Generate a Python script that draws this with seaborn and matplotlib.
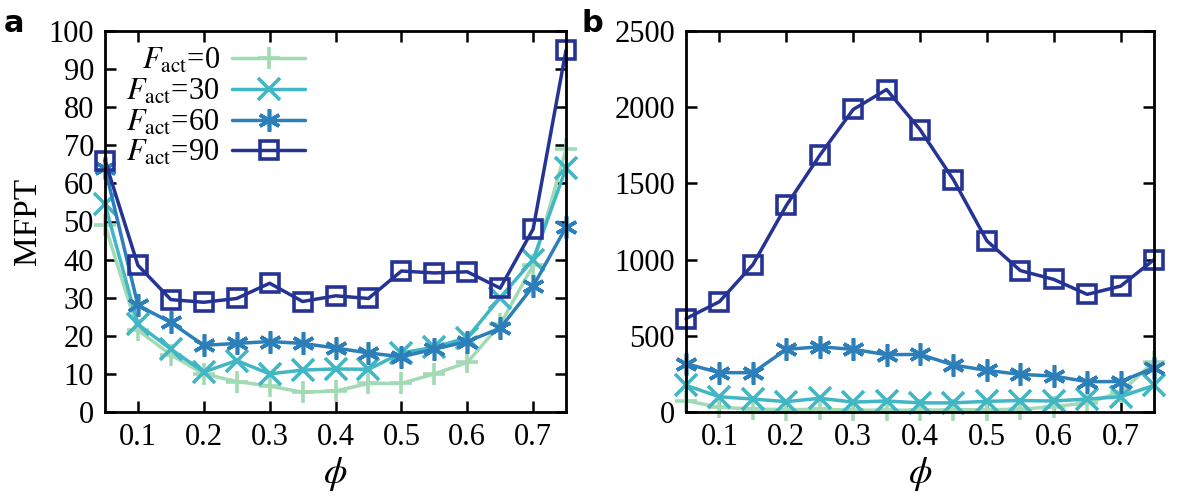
import numpy as np
import pandas as pd
import matplotlib
matplotlib.use("Agg")
import matplotlib.pyplot as plt
import seaborn as sns

phi = [0.05, 0.10, 0.15, 0.20, 0.25, 0.30, 0.35, 0.40, 0.45, 0.50, 0.55, 0.60, 0.65, 0.70, 0.75]
f_act = [0, 30, 60, 90]

# panel a
mfpt_a_0 = [49, 21.5, 15, 10, 8, 6.8, 5.2, 5.5, 7.5, 7.5, 10, 13, 23, 38.5, 69]
mfpt_a_30 = [54.5, 23, 16.5, 10.5, 13.5, 10, 11, 11.3, 11.2, 15.5, 17, 19.5, 30, 40, 64]
mfpt_a_60 = [64, 28, 23.5, 17.5, 18, 18.5, 18, 16.8, 15.5, 14.5, 16.5, 18.5, 22, 33, 48.5]
mfpt_a_90 = [66, 38.5, 29.5, 28.8, 29.8, 33.8, 29, 30.5, 29.8, 37, 36.5, 36.8, 32.5, 48, 95]

# panel b
mfpt_b_0 = [75, 30, 20, 15, 18, 12, 12, 12, 14, 15, 18, 35, 60, 130, 330]
mfpt_b_30 = [175, 100, 85, 68, 90, 65, 72, 60, 60, 70, 75, 72, 85, 100, 175]
mfpt_b_60 = [317, 258, 258, 411, 428, 411, 376, 378, 308, 273, 247, 236, 199, 200, 290]
mfpt_b_90 = [613, 724, 967, 1355, 1684, 1985, 2116, 1853, 1524, 1123, 928, 870, 772, 826, 1000]

colors = ["#a1dab4", "#41b6c4", "#2c7fb8", "#253494"]
marks = ["+", "x", (6, 2, 0), "s"]
labels = [r"$F_{\rm act}$=%d" % f for f in f_act]

sns.set_style("ticks")
plt.rcParams["font.family"] = ["Liberation Serif", "DejaVu Serif"]
plt.rcParams["mathtext.fontset"] = "stix"
plt.rcParams["axes.linewidth"] = 2
for key in ["text.color", "axes.labelcolor", "xtick.color", "ytick.color", "axes.edgecolor"]:
    plt.rcParams[key] = "black"

fig = plt.figure(figsize=(12, 5), dpi=100)
ax_a = fig.add_axes([0.0875, 0.176, 0.3842, 0.762])
ax_b = fig.add_axes([0.5717, 0.176, 0.39, 0.762])

panels = [(ax_a, [mfpt_a_0, mfpt_a_30, mfpt_a_60, mfpt_a_90]),
          (ax_b, [mfpt_b_0, mfpt_b_30, mfpt_b_60, mfpt_b_90])]

for ax, series in panels:
    for vals, c, m, lab in zip(series, colors, marks, labels):
        filled = m == "s"
        sns.lineplot(x=phi, y=vals, color=c, marker=m, linewidth=2.5,
                     markersize=13 if filled else 16, markeredgewidth=2.6,
                     markerfacecolor="none" if filled else c,
                     markeredgecolor=c, label=lab, legend=False,
                     errorbar=None, clip_on=False, ax=ax)
    ax.set_xlim(0.05, 0.75)
    ax.set_xticks([0.1, 0.2, 0.3, 0.4, 0.5, 0.6, 0.7])
    ax.set_xticklabels(["0.1", "0.2", "0.3", "0.4", "0.5", "0.6", "0.7"])
    ax.tick_params(direction="in", length=8, width=1.8, top=True, right=True,
                   labelsize=22, pad=8)
    ax.set_xlabel(r"$\phi$", fontsize=27, labelpad=2)
    for s in ax.spines.values():
        s.set_visible(True)

ax_a.set_ylim(0, 100)
ax_a.set_yticks(range(0, 101, 10))
ax_a.set_ylabel("MFPT", fontsize=24, labelpad=4)
ax_b.set_ylim(0, 2500)
ax_b.set_yticks(range(0, 2501, 500))
ax_b.set_ylabel("")

ax_a.legend(handles=ax_a.lines[:4], labels=labels, loc="upper left",
            bbox_to_anchor=(0.0, 1.015), markerfirst=False, frameon=False,
            fontsize=22, handlelength=2.4, labelspacing=0.05, borderpad=0.2,
            handletextpad=0.4)

fig.text(0.003, 0.935, "a", fontsize=22, fontweight="bold", family="DejaVu Sans")
fig.text(0.485, 0.935, "b", fontsize=22, fontweight="bold", family="DejaVu Sans")

fig.savefig("out.png", dpi=100)
